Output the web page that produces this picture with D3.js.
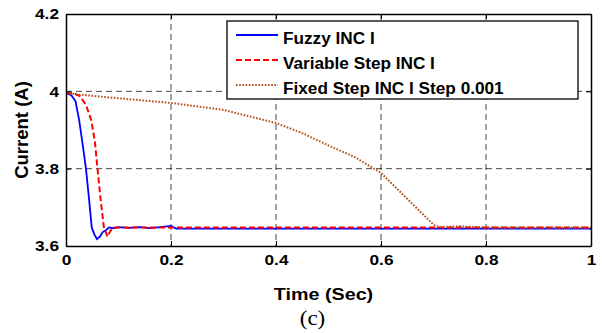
<!DOCTYPE html>
<meta charset="utf-8">
<style>
    body { margin: 0; background: #fff; }
    .tick text { font: bold 15px Arial, "Liberation Sans", sans-serif; fill: #000; }
    .grid line { stroke: #000; stroke-dasharray: 6, 4; stroke-width: 0.9; opacity: 0.8; }
    .line { fill: none; }
    .lbl { font: bold 17px Arial, "Liberation Sans", sans-serif; }
    .leg text { font: bold 17.2px Arial, "Liberation Sans", sans-serif; }
</style>
<body>
<script src="https://d3js.org/d3.v7.min.js"></script>
<script>

    var margin = {top: 14, right: 11, bottom: 87, left: 66},
        width = 602 - margin.left - margin.right,
        height = 333 - margin.top - margin.bottom;

    // Fuzzy INC I
    var fuzzyT = [0, 0.01, 0.018, 0.025, 0.032, 0.038, 0.044, 0.049, 0.054, 0.059, 0.065, 0.07, 0.076, 0.082, 0.09, 0.1, 0.12, 0.14, 0.16, 0.18, 0.2, 0.21, 1];
    var fuzzyI = [3.995, 3.99, 3.975, 3.926, 3.86, 3.8, 3.72, 3.648, 3.63, 3.618, 3.625, 3.636, 3.641, 3.648, 3.646, 3.649, 3.647, 3.649, 3.646, 3.649, 3.652, 3.645, 3.645];
    // Variable Step INC I
    var varT = [0, 0.015, 0.027, 0.038, 0.048, 0.055, 0.06, 0.066, 0.072, 0.079, 0.085, 0.09, 0.1, 1];
    var varI = [3.995, 3.995, 3.987, 3.965, 3.926, 3.87, 3.8, 3.72, 3.65, 3.624, 3.64, 3.648, 3.648, 3.648];
    // Fixed Step INC I Step 0.001
    var fixT = [0, 0.1, 0.2, 0.3, 0.4, 0.45, 0.5, 0.55, 0.6, 0.65, 0.7, 0.71, 0.75, 0.78, 0.8, 1];
    var fixI = [3.995, 3.982, 3.97, 3.952, 3.918, 3.892, 3.86, 3.83, 3.789, 3.722, 3.655, 3.649, 3.651, 3.649, 3.648, 3.648];

    var xTicks = [0, 0.2, 0.4, 0.6, 0.8, 1];
    var yTicks = [3.6, 3.8, 4, 4.2];
    var legendLabels = ["Fuzzy INC I", "Variable Step INC I", "Fixed Step INC I Step 0.001"];

    var x = d3.scaleLinear().domain([0, 1]).range([0, width]);
    var y = d3.scaleLinear().domain([3.6, 4.2]).range([height, 0]);

    var svg = d3.select("body").append("svg")
        .attr("width", 602)
        .attr("height", 333)
        .append("g")
        .attr("transform", "translate(" + margin.left + "," + margin.top + ")");

    // the original figure is a bit stretched sideways
    function stretch(sel, k) {
        sel.each(function() {
            var l = this.getComputedTextLength();
            d3.select(this).attr("textLength", l * k).attr("lengthAdjust", "spacingAndGlyphs");
        });
    }

    // grid
    svg.append("g").attr("class", "grid")
        .selectAll("line.v").data(xTicks.slice(1, -1)).enter().append("line")
        .attr("x1", x).attr("x2", x).attr("y1", 0).attr("y2", height);
    svg.append("g").attr("class", "grid")
        .selectAll("line.h").data(yTicks.slice(1, -1)).enter().append("line")
        .attr("x1", 0).attr("x2", width).attr("y1", y).attr("y2", y);

    var series = [
        {t: fuzzyT, v: fuzzyI, color: "#0000ff", dash: null, w: 1.8},
        {t: varT, v: varI, color: "#ff0000", dash: "6,3", w: 2},
        {t: fixT, v: fixI, color: "#b5501a", dash: "1.6,1.6", w: 2}
    ];

    var line = d3.line()
        .x(function(d) { return x(d[0]); })
        .y(function(d) { return y(d[1]); });

    series.forEach(function(s) {
        svg.append("path")
            .attr("class", "line")
            .datum(d3.zip(s.t, s.v))
            .attr("d", line)
            .attr("stroke", s.color)
            .attr("stroke-width", s.w)
            .attr("stroke-dasharray", s.dash);
    });

    // axes, ticks pointing inward on all four sides
    var xAxis = d3.axisBottom(x).tickValues(xTicks).tickFormat(d3.format("")).tickSizeInner(-5).tickSizeOuter(0).tickPadding(8);
    var yAxis = d3.axisLeft(y).tickValues(yTicks).tickFormat(d3.format("")).tickSizeInner(-5).tickSizeOuter(0).tickPadding(7);
    var xTop = d3.axisTop(x).tickValues(xTicks).tickFormat("").tickSizeInner(-5).tickSizeOuter(0);
    var yRight = d3.axisRight(y).tickValues(yTicks).tickFormat("").tickSizeInner(-5).tickSizeOuter(0);

    svg.append("g").attr("transform", "translate(0," + height + ")").call(xAxis);
    svg.append("g").call(yAxis);
    svg.append("g").call(xTop);
    svg.append("g").attr("transform", "translate(" + width + ",0)").call(yRight);
    svg.selectAll(".domain").attr("stroke", "#000").attr("stroke-width", 1.5);
    svg.selectAll(".tick line").attr("stroke", "#000");
    stretch(svg.selectAll(".tick text"), 1.15);

    // legend
    var leg = svg.append("g").attr("class", "leg").attr("transform", "translate(161,7)");
    leg.append("rect").attr("width", 351).attr("height", 78)
        .attr("fill", "#fff").attr("stroke", "#000").attr("stroke-width", 1.3);
    legendLabels.forEach(function(lbl, i) {
        var s = series[i];
        var cy = 14 + i * 25;
        leg.append("line").attr("x1", 9).attr("x2", 51).attr("y1", cy).attr("y2", cy)
            .attr("stroke", s.color).attr("stroke-width", s.w)
            .attr("stroke-dasharray", s.dash);
        leg.append("text").attr("x", 56).attr("y", cy + 8.5).text(lbl);
    });

    // labels
    svg.append("text").attr("class", "lbl")
        .attr("transform", "translate(-38.5," + (height / 2) + ") rotate(-90)")
        .attr("text-anchor", "middle").style("font-size", "18.5px").text("Current (A)");
    var xl = svg.append("text").attr("class", "lbl")
        .attr("x", 323.5 - margin.left).attr("y", 300 - margin.top)
        .attr("text-anchor", "middle").text("Time (Sec)");
    stretch(xl, 1.16);
    var cap = svg.append("text")
        .attr("x", 312.5 - margin.left).attr("y", 325 - margin.top)
        .attr("text-anchor", "middle")
        .style("font", "20px 'Liberation Serif', 'Times New Roman', serif")
        .text("(c)");
    stretch(cap, 1.15);
</script>
